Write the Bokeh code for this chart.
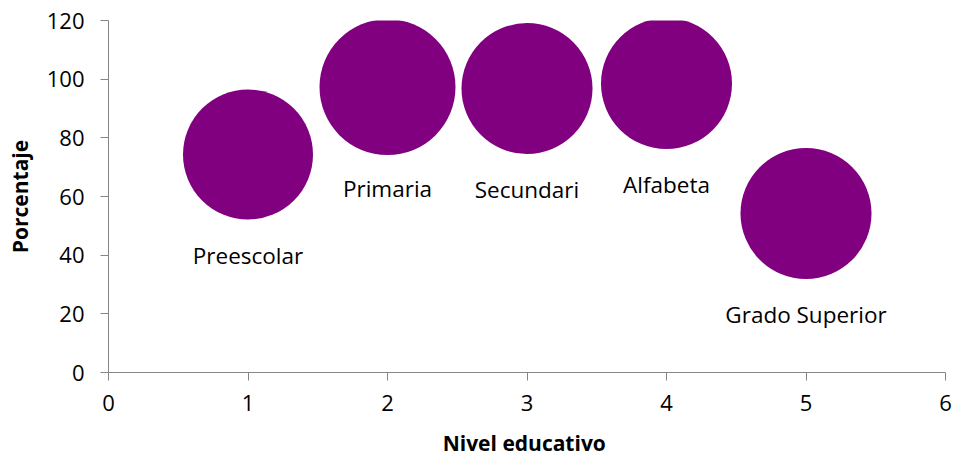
from bokeh.plotting import figure
from bokeh.models import ColumnDataSource, Range1d, FixedTicker
from bokeh.core.properties import value
from bokeh.embed import file_html
from bokeh.resources import INLINE

# Data
niveles = ["Preescolar", "Primaria", "Secundari", "Alfabeta", "Grado Superior"]
nivel_x = [1, 2, 3, 4, 5]
porcentaje = [74.3, 97.3, 96.8, 98.5, 54.2]
tamano = [65, 68, 65.5, 65.5, 65.5]  # bubble size (radius units)

x_ticks = [0, 1, 2, 3, 4, 5, 6]
y_ticks = [0, 20, 40, 60, 80, 100, 120]

FONT = "Open Sans"
PURPLE = "#800080"
GRAY = "#868686"

src = ColumnDataSource(dict(
    x=nivel_x, y=porcentaje, label=niveles,
    d=[2 * t for t in tamano],
))

p = figure(width=956, height=460, output_backend="svg", toolbar_location=None,
           x_range=Range1d(0, 6), y_range=Range1d(0, 120),
           min_border_left=108, min_border_right=11,
           min_border_top=20, min_border_bottom=88)
p.outline_line_color = None
p.xgrid.visible = False
p.ygrid.visible = False
p.background_fill_color = "white"
p.border_fill_color = "white"

p.scatter("x", "y", size="d", source=src, fill_color=PURPLE, line_color=None)
p.text("x", "y", text="label", source=src, y_offset=101,
       text_align="center", text_baseline="middle",
       text_font=value(FONT), text_font_size="22.5px", text_color="black")

for ax in (p.xaxis[0], p.yaxis[0]):
    ax.axis_line_color = GRAY
    ax.major_tick_line_color = GRAY
    ax.minor_tick_line_color = None
    ax.major_tick_in = 0
    ax.major_tick_out = 8
    ax.major_label_text_font = FONT
    ax.major_label_text_font_size = "22px"
    ax.major_label_text_color = "black"
    ax.axis_label_text_font = FONT
    ax.axis_label_text_font_style = "bold"
    ax.axis_label_text_font_size = "21px"
    ax.axis_label_text_color = "black"

p.xaxis.ticker = FixedTicker(ticks=x_ticks)
p.yaxis.ticker = FixedTicker(ticks=y_ticks)
p.xaxis.axis_label = "Nivel  educativo"
p.yaxis.axis_label = "Porcentaje"
p.xaxis.major_label_standoff = 14
p.yaxis.major_label_standoff = 16
p.xaxis.axis_label_standoff = 15
p.yaxis.axis_label_standoff = 10

open("out.html", "w").write(file_html(p, INLINE))
